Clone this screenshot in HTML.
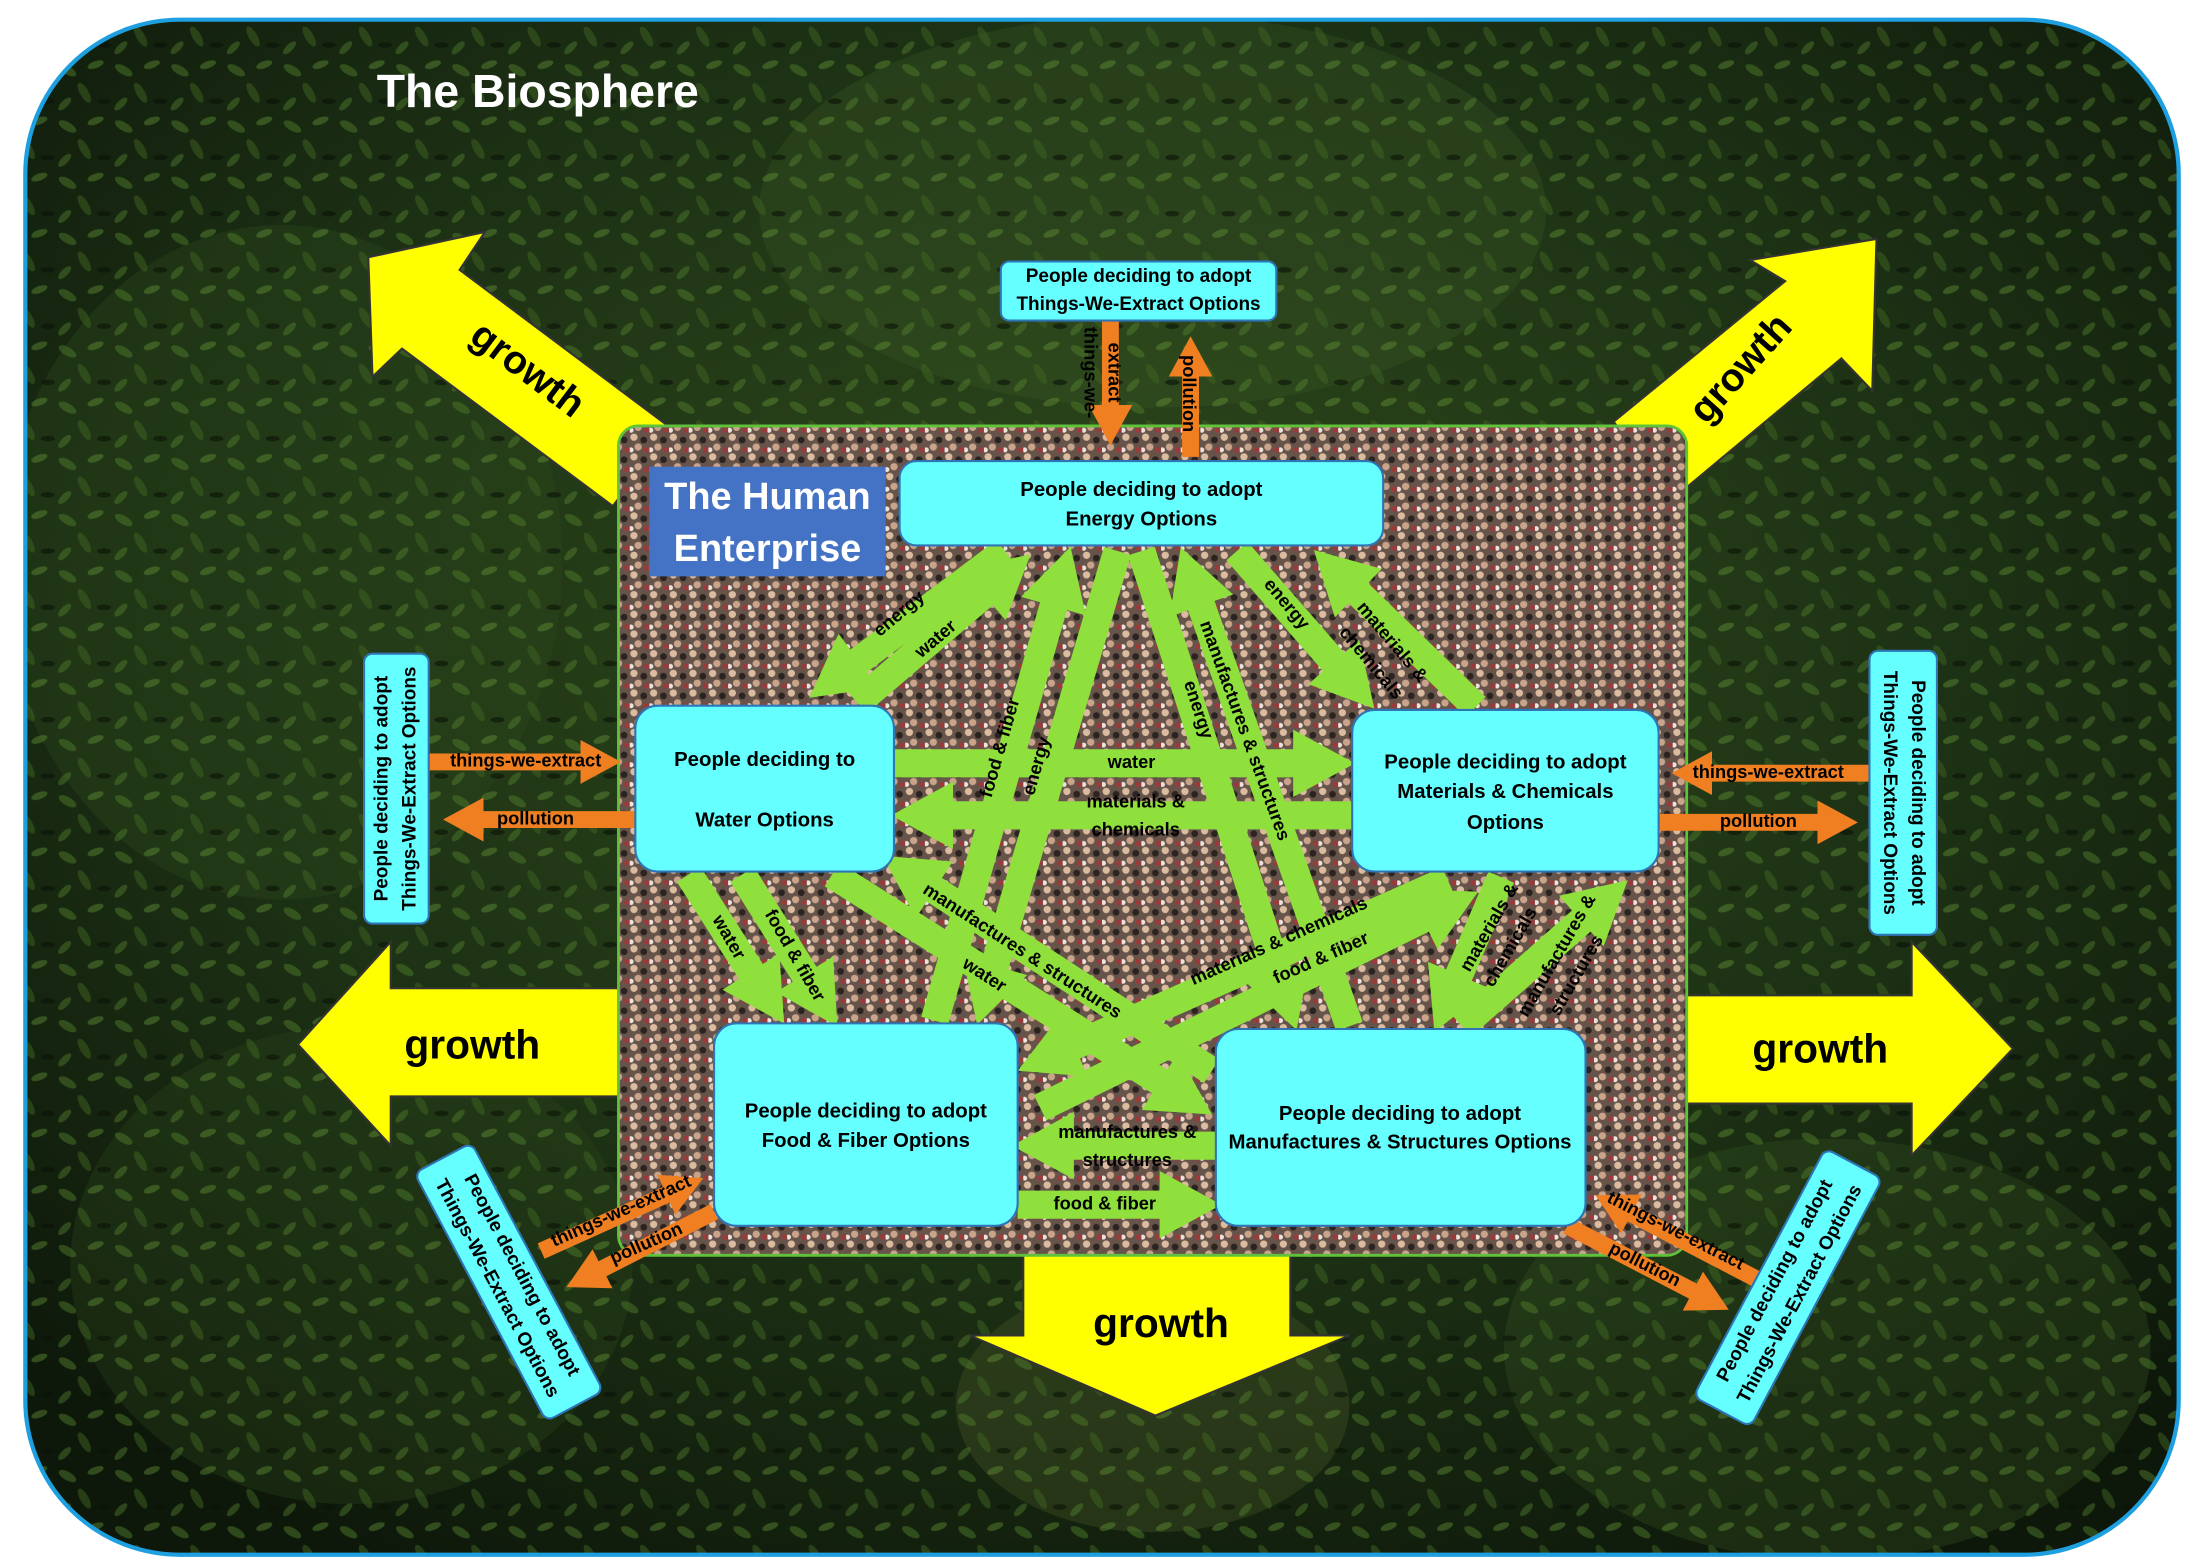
<!DOCTYPE html>
<html><head><meta charset="utf-8"><style>
html,body{margin:0;padding:0;background:#fff;}
svg{display:block;}
text{font-family:"Liberation Sans",sans-serif;font-weight:bold;}
</style></head><body>
<svg width="2204" height="1566" viewBox="0 0 1568 1114" preserveAspectRatio="none" xmlns="http://www.w3.org/2000/svg">
<defs>
<radialGradient id="bg1" cx="0.5" cy="0.4" r="0.7">
<stop offset="0" stop-color="#2f4a1c"/><stop offset="0.6" stop-color="#1c3014"/><stop offset="1" stop-color="#0d170a"/>
</radialGradient>
<pattern id="leaf" width="40" height="40" patternUnits="userSpaceOnUse">
<ellipse cx="8" cy="10" rx="7" ry="3" fill="#4d7a2a" opacity="0.5" transform="rotate(30,8,10)"/>
<ellipse cx="28" cy="6" rx="6" ry="2.5" fill="#6a9a3a" opacity="0.4" transform="rotate(-20,28,6)"/>
<ellipse cx="20" cy="26" rx="8" ry="3" fill="#3f6422" opacity="0.5" transform="rotate(60,20,26)"/>
<ellipse cx="34" cy="32" rx="5" ry="2" fill="#0a1206" opacity="0.6"/>
<ellipse cx="6" cy="34" rx="6" ry="2.5" fill="#5b8a32" opacity="0.4" transform="rotate(-45,6,34)"/>
</pattern>
<pattern id="crowd" width="14" height="14" patternUnits="userSpaceOnUse">
<rect width="14" height="14" fill="#66544a"/>
<circle cx="3" cy="3" r="2.6" fill="#dcbca0"/>
<circle cx="10" cy="5" r="2.4" fill="#2b2320"/>
<circle cx="6" cy="10" r="2.6" fill="#c9a38a"/>
<circle cx="12" cy="12" r="2" fill="#9a3a3a"/>
<circle cx="1" cy="12" r="1.8" fill="#ece4dc"/>
</pattern>
<clipPath id="outer"><rect x="18" y="14" width="1532" height="1092" rx="110"/></clipPath>
<marker id="g" markerWidth="2.2" markerHeight="2.4" refX="1.0" refY="1.2" orient="auto" markerUnits="strokeWidth"><path d="M0,0 L2.2,1.2 L0,2.4z" fill="#8fe03c"/></marker>
<marker id="o" markerWidth="2.4" markerHeight="2.6" refX="1.0" refY="1.3" orient="auto" markerUnits="strokeWidth"><path d="M0,0 L2.4,1.3 L0,2.6z" fill="#f07f21"/></marker>
</defs>

<rect x="18" y="14" width="1532" height="1092" rx="110" fill="url(#bg1)"/>
<g clip-path="url(#outer)">
<g opacity="0.35">
<ellipse cx="200" cy="400" rx="200" ry="240" fill="#2f4a1d"/>
<ellipse cx="820" cy="150" rx="280" ry="140" fill="#3a5526"/>
<ellipse cx="1300" cy="960" rx="230" ry="150" fill="#33501f"/>
<ellipse cx="250" cy="900" rx="200" ry="170" fill="#2b4419"/>
<ellipse cx="820" cy="1000" rx="140" ry="90" fill="#4a5a28"/>
</g>
<rect x="18" y="14" width="1532" height="1092" fill="url(#leaf)"/>
</g>
<rect x="18" y="14" width="1532" height="1092" rx="110" fill="none" stroke="#1e9fe0" stroke-width="3"/>

<text x="268" y="76" font-size="33" fill="#fff">The Biosphere</text>

<g fill="#ffff00" stroke="#333" stroke-width="1.5">
<polygon points="212,743 278,670 278,703 440,703 440,780 278,780 278,815"/>
<polygon points="1432,746 1360,670 1360,708 1200,708 1200,785 1360,785 1360,822"/>
<polygon points="822,1007 690,950 728,950 728,893 918,893 918,950 960,950"/>
<polygon points="262,183 345,165 327,192 478,305 436,360 286,248 265,268"/>
<polygon points="1335,170 1332,278 1310,255 1190,355 1148,300 1270,200 1245,185"/>
</g>
<text x="370" y="270" font-size="28" transform="rotate(37,370,270)" text-anchor="middle">growth</text>
<text x="1245" y="268" font-size="28" transform="rotate(-48,1245,268)" text-anchor="middle">growth</text>
<text x="336" y="753" font-size="29" text-anchor="middle">growth</text>
<text x="1295" y="756" font-size="29" text-anchor="middle">growth</text>
<text x="826" y="951" font-size="29" text-anchor="middle">growth</text>

<rect x="440" y="303" width="760" height="590" rx="14" fill="url(#crowd)" stroke="#5fc23a" stroke-width="2"/>

<g stroke="#8fe03c" stroke-width="20" marker-end="url(#g)">
<line x1="715" y1="392" x2="595" y2="482"/>
<line x1="610" y1="500" x2="715" y2="410"/>
<line x1="665" y1="726" x2="755" y2="412"/>
<line x1="795" y1="392" x2="702" y2="706"/>
<line x1="812" y1="392" x2="915" y2="710"/>
<line x1="960" y1="730" x2="848" y2="412"/>
<line x1="880" y1="392" x2="962" y2="486"/>
<line x1="1050" y1="503" x2="952" y2="408"/>
<line x1="636" y1="543" x2="940" y2="543"/>
<line x1="962" y1="580" x2="658" y2="580"/>
<line x1="490" y1="622" x2="545" y2="708"/>
<line x1="528" y1="622" x2="583" y2="710"/>
<line x1="862" y1="762" x2="648" y2="622"/>
<line x1="592" y1="622" x2="842" y2="780"/>
<line x1="1030" y1="626" x2="746" y2="752"/>
<line x1="740" y1="788" x2="1030" y2="645"/>
<line x1="1068" y1="624" x2="1030" y2="712"/>
<line x1="1040" y1="730" x2="1140" y2="642"/>
<line x1="865" y1="815" x2="744" y2="815"/>
<line x1="724" y1="857" x2="845" y2="857"/>
</g>
<g font-size="13" fill="#000" text-anchor="middle" dominant-baseline="middle">
<text x="640" y="437" transform="rotate(-40,640,437)">energy</text>
<text x="666" y="455" transform="rotate(-40,666,455)">water</text>
<text x="712" y="532" transform="rotate(-74,712,532)">food &amp; fiber</text>
<text x="738" y="545" transform="rotate(-74,738,545)">energy</text>
<text x="852" y="505" transform="rotate(72,852,505)">energy</text>
<text x="885" y="520" transform="rotate(70,885,520)">manufactures &amp; structures</text>
<text x="915" y="430" transform="rotate(50,915,430)">energy</text>
<text x="990" y="457" transform="rotate(50,990,457)">materials &amp;</text>
<text x="975" y="472" transform="rotate(50,975,472)">chemicals</text>
<text x="805" y="543">water</text>
<text x="808" y="571">materials &amp;</text>
<text x="808" y="591">chemicals</text>
<text x="518" y="667" transform="rotate(60,518,667)">water</text>
<text x="565" y="680" transform="rotate(60,565,680)">food &amp; fiber</text>
<text x="727" y="677" transform="rotate(33,727,677)">manufactures &amp; structures</text>
<text x="700" y="694" transform="rotate(33,700,694)">water</text>
<text x="910" y="670" transform="rotate(-24,910,670)">materials &amp; chemicals</text>
<text x="940" y="682" transform="rotate(-24,940,682)">food &amp; fiber</text>
<text x="1060" y="660" transform="rotate(-60,1060,660)">materials &amp;</text>
<text x="1075" y="674" transform="rotate(-60,1075,674)">chemicals</text>
<text x="1108" y="680" transform="rotate(-60,1108,680)">manufactures &amp;</text>
<text x="1122" y="694" transform="rotate(-60,1122,694)">structures</text>
<text x="802" y="806">manufactures &amp;</text>
<text x="802" y="826">structures</text>
<text x="786" y="857">food &amp; fiber</text>
</g>

<g stroke="#f07f21" stroke-width="12" marker-end="url(#o)">
<line x1="790" y1="228" x2="790" y2="300"/>
<line x1="847" y1="325" x2="847" y2="256"/>
<line x1="305" y1="542" x2="425" y2="542"/>
<line x1="452" y1="583" x2="332" y2="583"/>
<line x1="1330" y1="550" x2="1206" y2="550"/>
<line x1="1180" y1="585" x2="1305" y2="585"/>
<line x1="385" y1="890" x2="485" y2="845"/>
<line x1="508" y1="862" x2="418" y2="908"/>
<line x1="1250" y1="910" x2="1150" y2="858"/>
<line x1="1115" y1="872" x2="1215" y2="924"/>
</g>
<g font-size="13" fill="#000" text-anchor="middle" dominant-baseline="middle">
<text x="775" y="265" transform="rotate(90,775,265)">things-we-</text>
<text x="792" y="265" transform="rotate(90,792,265)">extract</text>
<text x="845" y="280" transform="rotate(90,845,280)">pollution</text>
<text x="374" y="542">things-we-extract</text>
<text x="381" y="583">pollution</text>
<text x="1258" y="550">things-we-extract</text>
<text x="1251" y="585">pollution</text>
<text x="442" y="862" transform="rotate(-24,442,862)">things-we-extract</text>
<text x="460" y="885" transform="rotate(-24,460,885)">pollution</text>
<text x="1192" y="876" transform="rotate(27,1192,876)">things-we-extract</text>
<text x="1170" y="900" transform="rotate(27,1170,900)">pollution</text>
</g>

<g fill="#66ffff" stroke="#2e75b6" stroke-width="1.5">
<rect x="640" y="328" width="344" height="60" rx="12"/>
<rect x="452" y="502" width="184" height="118" rx="16"/>
<rect x="962" y="505" width="218" height="115" rx="16"/>
<rect x="508" y="728" width="216" height="144" rx="16"/>
<rect x="865" y="732" width="263" height="140" rx="16"/>
<rect x="712" y="186" width="196" height="42" rx="6"/>
<rect x="259" y="465" width="46" height="192" rx="6"/>
<rect x="1330" y="463" width="48" height="202" rx="6"/>
<rect x="-100" y="-23" width="200" height="46" rx="6" transform="translate(362,912) rotate(62)"/>
<rect x="-100" y="-23" width="200" height="46" rx="6" transform="translate(1272,916) rotate(-62)"/>
</g>
<g font-size="14.5" fill="#000" text-anchor="middle" dominant-baseline="middle">
<text x="812" y="349">People deciding to adopt</text>
<text x="812" y="370">Energy Options</text>
<text x="544" y="541">People deciding to</text>
<text x="544" y="584">Water Options</text>
<text x="1071" y="543">People deciding to adopt</text>
<text x="1071" y="564">Materials &amp; Chemicals</text>
<text x="1071" y="586">Options</text>
<text x="616" y="791">People deciding to adopt</text>
<text x="616" y="812">Food &amp; Fiber Options</text>
<text x="996" y="793">People deciding to adopt</text>
<text x="996" y="813">Manufactures &amp; Structures Options</text>
</g>
<g font-size="13.5" fill="#000" text-anchor="middle" dominant-baseline="middle">
<text x="810" y="197">People deciding to adopt</text>
<text x="810" y="217">Things-We-Extract Options</text>
<g transform="translate(282,561) rotate(-90)"><text x="0" y="-10">People deciding to adopt</text><text x="0" y="10">Things-We-Extract Options</text></g>
<g transform="translate(1354,564) rotate(90)"><text x="0" y="-10">People deciding to adopt</text><text x="0" y="10">Things-We-Extract Options</text></g>
<g transform="translate(362,912) rotate(62)"><text x="0" y="-10">People deciding to adopt</text><text x="0" y="10">Things-We-Extract Options</text></g>
<g transform="translate(1272,916) rotate(-62)"><text x="0" y="-10">People deciding to adopt</text><text x="0" y="10">Things-We-Extract Options</text></g>
</g>

<rect x="462" y="332" width="168" height="78" fill="#4472c4"/>
<text x="546" y="362" font-size="27" fill="#fff" text-anchor="middle">The Human</text>
<text x="546" y="399" font-size="27" fill="#fff" text-anchor="middle">Enterprise</text>
</svg>
</body></html>
